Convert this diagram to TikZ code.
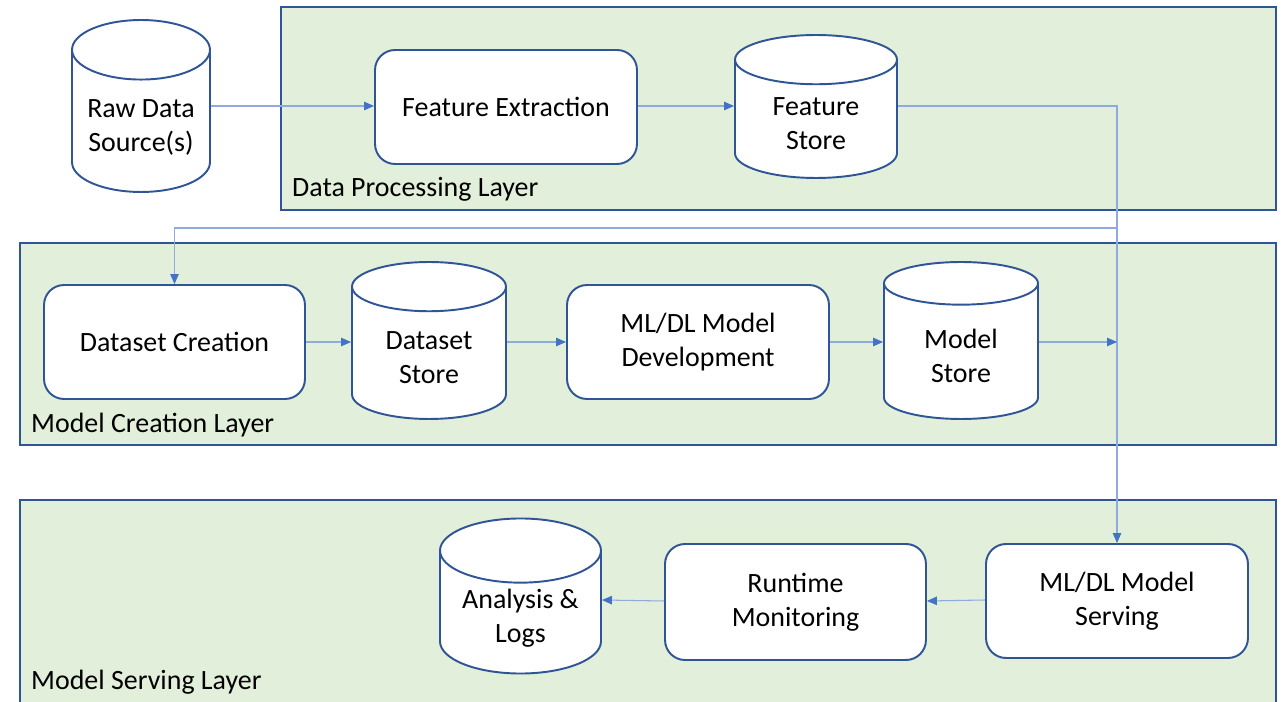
\documentclass[tikz,border=0pt]{standalone}
\usepackage{fontspec}
\setmainfont{Carlito}
\usetikzlibrary{shapes.geometric,arrows.meta}
\definecolor{layerfill}{RGB}{226,239,218}
\definecolor{layerline}{RGB}{47,85,151}
\definecolor{linkline}{RGB}{143,170,220}
\definecolor{linkhead}{RGB}{68,114,196}

\begin{document}
\begin{tikzpicture}[x=0.02cm, y=-0.02cm,
    layer/.style={fill=layerfill, draw=layerline, line width=1.1pt},
    proc/.style={shape=rectangle, rounded corners=0.4cm, draw=layerline, fill=white, line width=1.1pt, minimum width=5.24cm, minimum height=2.28cm, align=center, font=\fontsize{15.9}{19.3}\selectfont},
    store/.style={shape=cylinder, shape border rotate=90, aspect=0.5, anchor=shape center, draw=layerline, fill=white, line width=1.1pt, align=center, font=\fontsize{15.9}{19.3}\selectfont},
    link/.style={draw=linkline, line width=0.6pt, -{Triangle[length=0.2cm,width=0.17cm,color=linkhead]}},
    lbl/.style={anchor=west, font=\fontsize{15.9}{19.3}\selectfont}]
    \useasboundingbox (0,0) rectangle (1286,702);
    % layers
    \path[layer] (281,7) rectangle (1276,210);
    \path[layer] (20,243) rectangle (1276,445);
    \fill[layerfill] (20,500) rectangle (1276,702);
    \draw[layerline, line width=1.1pt] (20,702) -- (20,500) -- (1276,500) -- (1276,702);
    \node[lbl] at (286,189) (Ldata) {Data Processing Layer};
    \node[lbl] at (25,425) (Lmodel) {Model Creation Layer};
    \node[lbl] at (25,682) (Lserve) {Model Serving Layer};
    % data processing
    \node[store, minimum width=2.76cm, minimum height=3.44cm] at (141,106) (Raw) {Raw Data\\Source(s)};
    \node[proc] at (506,107) (FExtract) {Feature Extraction};
    \node[store, minimum width=3.24cm, minimum height=2.86cm] at (816,106.5) (FStore) {Feature\\Store};
    % model creation
    \node[proc, minimum width=5.22cm] at (174.5,342) (DCreate) {Dataset Creation};
    \node[store, minimum width=3.08cm, minimum height=3.14cm] at (429,340.5) (DStore) {Dataset\\Store};
    \node[proc] at (698,342) (MDev) {ML/DL Model\\Development};
    \node[store, minimum width=3.08cm, minimum height=3.14cm] at (961,340.5) (MStore) {Model\\Store};
    % model serving
    \node[proc] at (1117,601) (MServe) {ML/DL Model\\Serving};
    \node[proc, minimum width=5.22cm, minimum height=2.32cm] at (795.5,602) (Monitor) {Runtime\\Monitoring};
    \node[store, minimum width=3.22cm, minimum height=2.84cm] at (520.5,596) (Logs) {Analysis \&\\Logs};
    % links
    \coordinate (Split) at (1117,228);
    \coordinate (Join) at (1117,342);
    \draw[link] (Raw.east |- 0,106) -- (FExtract.west |- 0,106);
    \draw[link] (FExtract.east |- 0,106) -- (FStore.west |- 0,106);
    \draw[link] (FStore.east |- 0,106) -| (MServe.north);
    \draw[link] (Split) -| (DCreate.north);
    \draw[link] (DCreate.east |- 0,342) -- (DStore.west |- 0,342);
    \draw[link] (DStore.east |- 0,342) -- (MDev.west |- 0,342);
    \draw[link] (MDev.east |- 0,342) -- (MStore.west |- 0,342);
    \draw[link] (MStore.east |- Join) -- (Join);
    \draw[link] (MServe.west |- 0,600) -- (Monitor.east |- 0,601);
    \draw[link] (Monitor.west |- 0,601) -- (Logs.east |- 0,600);
\end{tikzpicture}
\end{document}
